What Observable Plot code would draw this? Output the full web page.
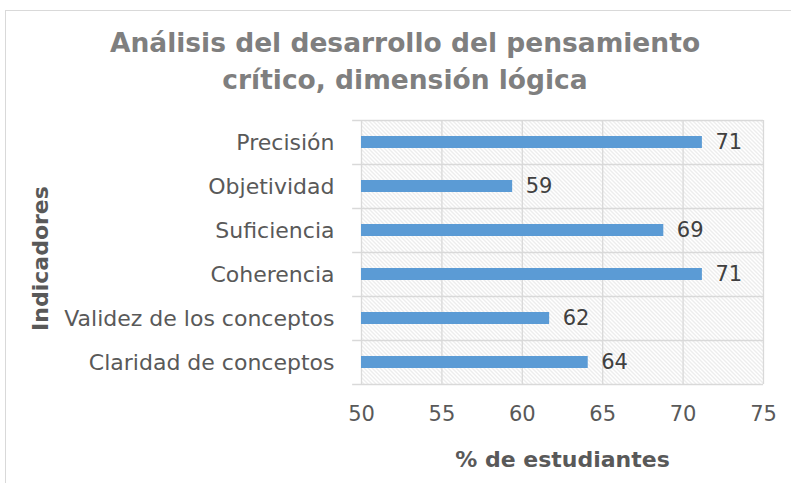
<!DOCTYPE html>
<html><head><meta charset="utf-8">
<script src="https://cdn.jsdelivr.net/npm/d3@7"></script>
<script src="https://cdn.jsdelivr.net/npm/@observablehq/plot@0.6"></script>
<style>
body{margin:0;background:#fff;font-family:"DejaVu Sans",Verdana,sans-serif;}
#wrap{position:relative;width:791px;height:483px;overflow:hidden;}
#frame{position:absolute;left:5px;top:10px;width:800px;height:480px;border-left:1px solid #d9d9d9;border-top:1px solid #d9d9d9;}
#title{position:absolute;left:0;top:24px;width:810px;text-align:center;font-weight:bold;font-size:26.5px;line-height:37px;color:#7f7f7f;}
#chart{position:absolute;left:0;top:0;}
</style></head>
<body><div id="wrap"><div id="frame"></div><div id="chart"></div>
<div id="title">Análisis del desarrollo del pensamiento<br>crítico, dimensión lógica</div></div>
<script>
const categories = ["Precisión","Objetividad","Suficiencia","Coherencia","Validez de los conceptos","Claridad de conceptos"];
const values = [71.2, 59.4, 68.8, 71.2, 61.7, 64.1];
const labels = ["71","59","69","71","62","64"];
const xTicks = [50,55,60,65,70,75];
const xLabel = "% de estudiantes";
const yLabel = "Indicadores";

const data = categories.map((c,i)=>({cat:c, v:values[i], lab:labels[i]}));
const W = 791, H = 483, mt = 120, mb = 99, ml = 361, mr = 28;
const band = (H - mt - mb) / categories.length;

const plot = Plot.plot({
  width: W, height: H,
  marginTop: mt, marginBottom: mb, marginLeft: ml, marginRight: mr,
  style: {fontFamily: '"DejaVu Sans", Verdana, sans-serif', fontSize: "21px", color: "#595959", background: "transparent"},
  x: {domain: [50, 75], ticks: xTicks, tickSize: 0, tickPadding: 22, label: null},
  y: {domain: categories, paddingInner: 0.72, paddingOuter: 0.36, axis: null},
  marks: [
    Plot.frame({fill: "url(#hatch)", stroke: null}),
    Plot.ruleX(xTicks, {stroke: "#d9d9d9", strokeWidth: 1.3}),
    Plot.ruleY(data, {y: "cat", x1: 49.45, x2: 75, dy: band/2, stroke: "#d9d9d9", strokeWidth: 1.3}),
    Plot.ruleY(data.slice(0,1), {y: "cat", x1: 49.45, x2: 75, dy: -band/2, stroke: "#d9d9d9", strokeWidth: 1.3}),
    Plot.axisY({tickSize: 0, tickPadding: 27, fontSize: 22, label: null}),
    Plot.barX(data, {y: "cat", x1: 50, x2: "v", fill: "#5b9bd5"}),
    Plot.text(data, {y: "cat", x: "v", text: "lab", dx: 13, textAnchor: "start", fill: "#404040", fontSize: 21}),
    Plot.text([xLabel], {frameAnchor: "bottom", dy: 82, fontWeight: "bold", fill: "#595959", fontSize: 22}),
    Plot.text([yLabel], {frameAnchor: "left", dx: -321, dy: 6, rotate: -90, textAnchor: "middle", fontWeight: "bold", fill: "#595959", fontSize: 22})
  ]
});
const svg = d3.select(plot);
const defs = svg.insert("defs", ":first-child");
const pat = defs.append("pattern").attr("id","hatch").attr("patternUnits","userSpaceOnUse")
  .attr("width",4).attr("height",4);
pat.append("rect").attr("width",4).attr("height",4).attr("fill","#fff");
pat.append("path").attr("d","M-1,-1 L5,5 M-1,3 L1,5 M3,-1 L5,1").attr("stroke","#d2d2d2").attr("stroke-width",0.8);
document.getElementById("chart").appendChild(plot);
</script></body></html>
